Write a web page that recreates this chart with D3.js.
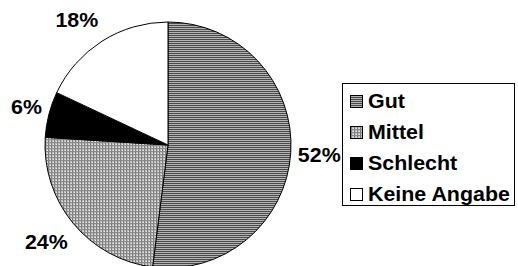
<!DOCTYPE html>
<html>
<head>
<meta charset="utf-8">
<script src="https://cdn.jsdelivr.net/npm/d3@7"></script>
<style>
  html, body { margin: 0; padding: 0; background: #fff; }
  svg { display: block; }
  text { font-family: "Liberation Sans", Arial, sans-serif; font-weight: bold; fill: #000; }
</style>
</head>
<body>
<svg id="chart" width="518" height="266"></svg>
<script>
// ---- data ----
const categories = ["Gut", "Mittel", "Schlecht", "Keine Angabe"];
const values = [52, 24, 6, 18];
const valueLabels = ["52%", "24%", "6%", "18%"];
const fills = ["url(#pGut)", "url(#pMittel)", "#000000", "#ffffff"];

const cx = 168, cy = 145, r = 123;
const fontSize = 20, sx = 1.07;

const svg = d3.select("#chart");
const defs = svg.append("defs");

// Horizontal-stripe pattern (Gut)
const pG = defs.append("pattern").attr("id", "pGut")
  .attr("patternUnits", "userSpaceOnUse").attr("width", 4).attr("height", 2);
pG.append("rect").attr("width", 4).attr("height", 2).attr("fill", "#b4b4b4");
pG.append("rect").attr("width", 4).attr("height", 1).attr("fill", "#4a4a4a");

// Dotted pattern (Mittel)
const pM = defs.append("pattern").attr("id", "pMittel")
  .attr("patternUnits", "userSpaceOnUse").attr("width", 3).attr("height", 3);
pM.append("rect").attr("width", 3).attr("height", 3).attr("fill", "#c0c0c0");
pM.append("rect").attr("width", 1).attr("height", 3).attr("fill", "#7a7a7a");
pM.append("rect").attr("width", 3).attr("height", 1).attr("fill", "#8a8a8a");
pM.append("rect").attr("x", 2).attr("y", 2).attr("width", 1).attr("height", 1).attr("fill", "#e8e8e8");

const data = categories.map((c, i) => ({ cat: c, value: values[i], label: valueLabels[i], fill: fills[i] }));

const pie = d3.pie().value(d => d.value).sort(null).startAngle(0).endAngle(2 * Math.PI);
const arcs = pie(data);
const arc = d3.arc().innerRadius(0).outerRadius(r);

const g = svg.append("g").attr("transform", `translate(${cx},${cy})`);
g.selectAll("path.slice").data(arcs).join("path")
  .attr("class", "slice")
  .attr("d", arc)
  .attr("fill", d => d.data.fill)
  .attr("stroke", "#000")
  .attr("stroke-width", 1);

// value labels outside the pie: nearest box edge sits on an ellipse along the slice's mid angle
const R0x = 130, R0y = 140;
const clamp = v => Math.max(-1, Math.min(1, v));
g.selectAll("text.lbl").data(arcs).join("text")
  .attr("class", "lbl")
  .attr("font-size", fontSize)
  .attr("text-anchor", "middle")
  .text(d => d.data.label)
  .each(function (d) {
    const t = d3.select(this);
    const w = this.getBBox().width * sx, h = fontSize * 0.716;
    const a = (d.startAngle + d.endAngle) / 2;
    const s = Math.sin(a), c = Math.cos(a);
    const x = R0x * s + (w / 2) * clamp(2 * s);
    const y = -R0y * c - (h / 2) * clamp(2 * c);
    t.attr("transform", `translate(${x},${y + h / 2}) scale(${sx},1)`);
  });

// legend
const legX = 342.5, legY = 83.5, legW = 172, legH = 122;
const leg = svg.append("g");
leg.append("rect").attr("x", legX).attr("y", legY).attr("width", legW).attr("height", legH)
  .attr("fill", "#fff").attr("stroke", "#000").attr("stroke-width", 1);

const rowY = d3.scalePoint().domain(categories).range([101, 194]);
const rows = leg.selectAll("g.row").data(data).join("g").attr("class", "row")
  .attr("transform", d => `translate(0,${rowY(d.cat)})`);
rows.append("rect")
  .attr("x", 350.5).attr("y", -5.5).attr("width", 12).attr("height", 12)
  .attr("fill", d => d.fill).attr("stroke", "#000").attr("stroke-width", 1);
rows.append("text")
  .attr("font-size", fontSize)
  .attr("transform", `translate(368,${0.716 * fontSize / 2}) scale(${sx},1)`)
  .text(d => d.cat);
</script>
</body>
</html>
